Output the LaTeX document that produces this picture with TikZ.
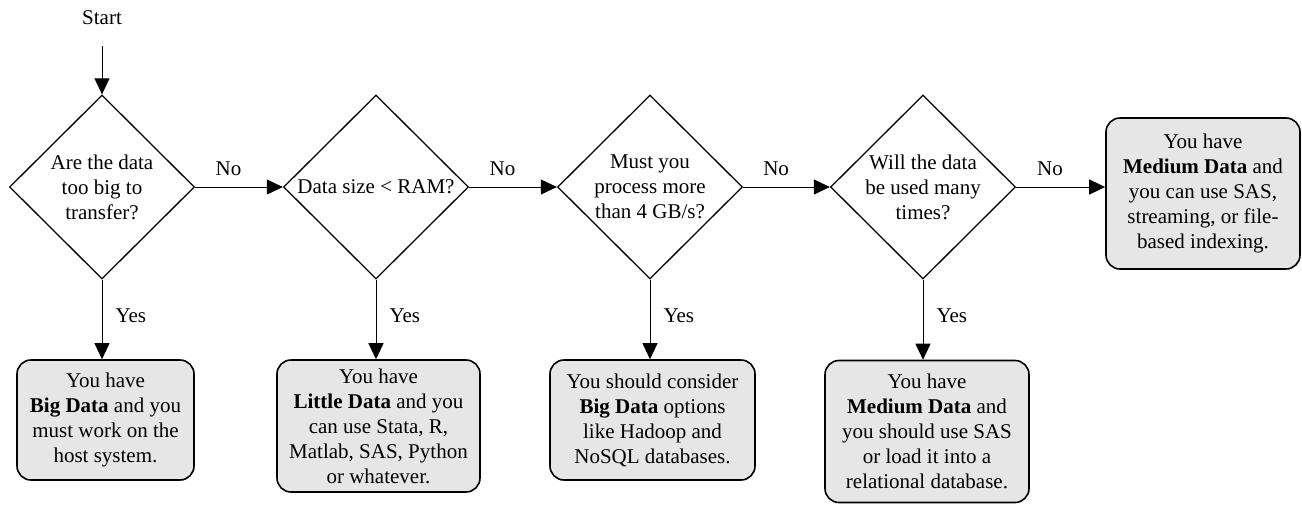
\documentclass[tikz,border=0pt]{standalone}
\usepackage{fontspec}
\setmainfont{Liberation Serif}
\usetikzlibrary{shapes.geometric,arrows.meta}
\definecolor{boxfill}{HTML}{E6E6E6}
\tikzset{
  decision/.style={draw=black,line width=1.3pt,diamond,minimum width=185pt,minimum height=184pt,inner sep=0pt,align=center,font=\fontsize{21}{25}\selectfont},
  result/.style={draw=black,line width=1.6pt,fill=boxfill,rounded corners=14pt,align=center,inner sep=0pt,font=\fontsize{21}{25}\selectfont},
  flow/.style={draw=black,line width=1pt,-{Triangle[length=16pt,width=15pt]}},
  lbl/.style={font=\fontsize{21}{25}\selectfont,inner sep=0pt}
}
\begin{document}
\begin{tikzpicture}[x=1pt,y=-1pt]
\useasboundingbox (0,0) rectangle (1302,504);
\node[lbl] (start) at (102,18) {Start};
\coordinate (s0) at (102,46);
\node[decision] (d1) at (102,187) {Are the data\\too big to\\transfer?};
\node[decision] (d2) at (376,187) {Data size < RAM?};
\node[decision] (d3) at (650,187) {Must you\\process more\\than 4 GB/s?};
\node[decision] (d4) at (923,187) {Will the data\\be used many\\times?};
\node[result,minimum width=177pt,minimum height=120pt] (b1) at (105.5,420) {You have\\\textbf{Big Data} and you\\must work on the\\host system.};
\node[result,minimum width=203pt,minimum height=132pt] (b2) at (378.5,426) {You have\\\textbf{Little Data} and you\\can use Stata, R,\\Matlab, SAS, Python\\or whatever.};
\node[result,minimum width=205pt,minimum height=120pt] (b3) at (652.5,420) {You should consider\\\textbf{Big Data} options\\like Hadoop and\\NoSQL databases.};
\node[result,minimum width=204pt,minimum height=142pt] (b4) at (927,431.5) {You have\\\textbf{Medium Data} and\\you should use SAS\\or load it into a\\relational database.};
\node[result,minimum width=194pt,minimum height=151pt] (b5) at (1203,193.5) {You have\\\textbf{Medium Data} and\\you can use SAS,\\streaming, or file-\\based indexing.};
\draw[flow] (s0) -- (d1.north);
\draw[flow] (d1.east) -- node[lbl,pos=0.38,above=11pt] {No} (d2.west);
\draw[flow] (d2.east) -- node[lbl,pos=0.38,above=11pt] {No} (d3.west);
\draw[flow] (d3.east) -- node[lbl,pos=0.38,above=11pt] {No} (d4.west);
\draw[flow] (d4.east) -- node[lbl,pos=0.38,above=11pt] {No} (d4.east -| b5.west);
\draw[flow] (d1.south) -- node[lbl,midway,right=13pt,yshift=4pt] {Yes} (d1.south |- b1.north);
\draw[flow] (d2.south) -- node[lbl,midway,right=13pt,yshift=4pt] {Yes} (d2.south |- b2.north);
\draw[flow] (d3.south) -- node[lbl,midway,right=13pt,yshift=4pt] {Yes} (d3.south |- b3.north);
\draw[flow] (d4.south) -- node[lbl,midway,right=13pt,yshift=4pt] {Yes} (d4.south |- b4.north);
\end{tikzpicture}
\end{document}
